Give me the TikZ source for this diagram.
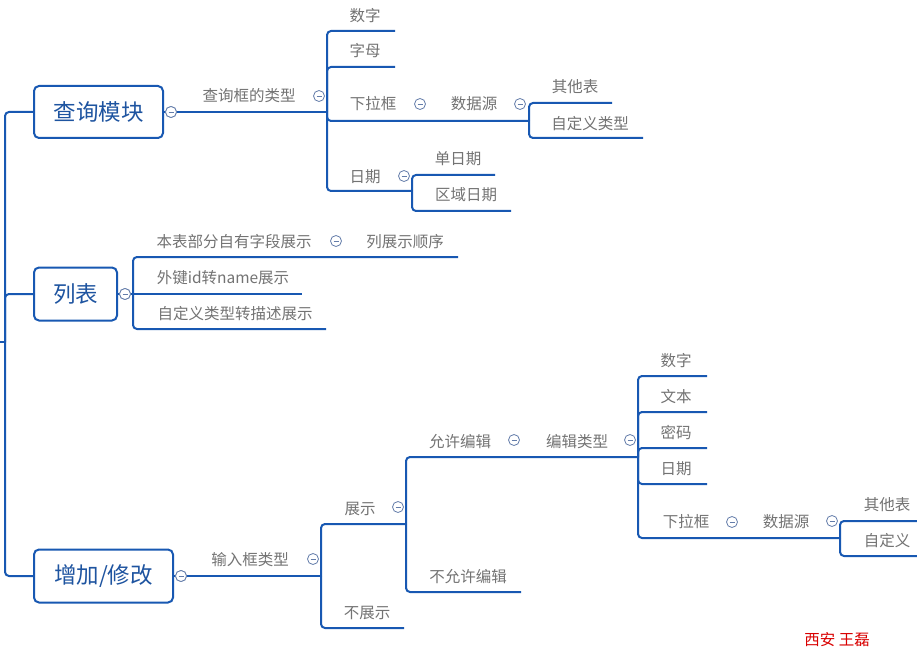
\documentclass[tikz,border=0pt]{standalone}
\usepackage{fontspec}
\setmainfont{Noto Sans CJK SC}
\definecolor{lineblue}{RGB}{24,88,178}
\definecolor{rootblue}{RGB}{30,84,160}
\definecolor{txtgrey}{RGB}{115,115,115}
\definecolor{toggrey}{RGB}{100,125,170}
\tikzset{
 link/.style={draw=lineblue, line width=2pt, rounded corners=4pt},
 lbl/.style={text=txtgrey, font=\fontsize{15.5}{15.5}\selectfont, inner sep=0pt},
 rootbox/.style={draw=lineblue, line width=2pt, rounded corners=5pt, text=rootblue, font=\fontsize{22.5}{22.5}\selectfont, inner sep=0pt, fill=white},
 tog/.style={circle, draw=toggrey, line width=0.8pt, fill=white, minimum size=11pt, inner sep=0pt,
   path picture={\draw[toggrey, line width=0.8pt] ([xshift=-2.5pt]path picture bounding box.center) -- ([xshift=2.5pt]path picture bounding box.center);}},
}
\begin{document}
\begin{tikzpicture}[x=1pt,y=-1pt]
\useasboundingbox[fill=white] (0,0) rectangle (917,652);
% trunk
\coordinate (in) at (0,342);
\coordinate (trunk) at (5,342);
\node[rootbox, minimum width=129pt, minimum height=52pt] (r1) at (98.5,112) {查询模块};
\node[rootbox, minimum width=83pt, minimum height=53pt] (r2) at (75.5,294) {列表};
\node[rootbox, minimum width=139pt, minimum height=53pt] (r3) at (103.5,576) {增加/修改};
\draw[link] (in) -- (trunk);
\draw[link] (trunk) |- (r1.west);
\draw[link] (trunk) |- (r2.west);
\draw[link] (trunk) |- (r3.west);

% ---------- branch 1
\coordinate (j1) at (327,112);
\draw[link] (r1.east) -- (j1);
\node[tog] (t1) at (171,112) {};
\node[lbl] (q1) at (249,96) {查询框的类型};
\node[tog] (t1b) at (319,96) {};

\node[lbl] (a1) at (365,16) {数字};
\coordinate (a1e) at (395,31);
\draw[link] (j1) |- (a1e);
\node[lbl] (a2) at (365,51) {字母};
\coordinate (a2e) at (395,67);
\draw[link] (j1) |- (a2e);

\node[lbl] (a3) at (373,104) {下拉框};
\node[tog] (t3) at (420,104) {};
\node[lbl] (a3b) at (474,104) {数据源};
\node[tog] (t3b) at (520,104) {};
\coordinate (j3) at (529,121);
\draw[link] (j1) |- (j3);
\node[lbl] (a31) at (575,87) {其他表};
\coordinate (a31e) at (612,103);
\draw[link] (j3) |- (a31e);
\node[lbl] (a32) at (590,124) {自定义类型};
\coordinate (a32e) at (643,138);
\draw[link] (j3) |- (a32e);

\node[lbl] (a4) at (365,177) {日期};
\node[tog] (t4) at (404,176) {};
\coordinate (j4) at (412,191);
\draw[link] (j1) |- (j4);
\node[lbl] (a41) at (458,159) {单日期};
\coordinate (a41e) at (495,175);
\draw[link] (j4) |- (a41e);
\node[lbl] (a42) at (466,195) {区域日期};
\coordinate (a42e) at (511,211);
\draw[link] (j4) |- (a42e);

% ---------- branch 2
\coordinate (j2) at (133,294);
\draw[link] (r2.east) -- (j2);
\node[tog] (t2) at (125,294) {};
\node[lbl] (b1) at (234,242) {本表部分自有字段展示};
\node[tog] (tb1) at (336,241) {};
\node[lbl] (b1b) at (405,242) {列展示顺序};
\coordinate (b1e) at (458,257);
\draw[link] (j2) |- (b1e);
\node[lbl] (b2) at (223,278) {外键id转name展示};
\coordinate (b2e) at (302,294);
\draw[link] (j2) -- (b2e);
\node[lbl] (b3) at (235,314) {自定义类型转描述展示};
\coordinate (b3e) at (326,329);
\draw[link] (j2) |- (b3e);

% ---------- branch 3
\coordinate (j5) at (321,576);
\draw[link] (r3.east) -- (j5);
\node[tog] (t5) at (181,576) {};
\node[lbl] (c0) at (250,560) {输入框类型};
\node[tog] (t5b) at (313,559) {};

\node[lbl] (c1) at (360,509) {展示};
\node[tog] (tc1) at (398,507) {};
\coordinate (j6) at (406,524);
\draw[link] (j5) |- (j6);

\node[lbl] (c11) at (460,442) {允许编辑};
\node[tog] (tc11) at (514,440) {};
\node[lbl] (c11b) at (577,442) {编辑类型};
\node[tog] (tc11b) at (630,440) {};
\coordinate (j7) at (638,457);
\draw[link] (j6) |- (j7);

\node[lbl] (d1) at (676,361) {数字};
\coordinate (d1e) at (707,376);
\draw[link] (j7) |- (d1e);
\node[lbl] (d2) at (676,397) {文本};
\coordinate (d2e) at (707,412);
\draw[link] (j7) |- (d2e);
\node[lbl] (d3) at (676,433) {密码};
\coordinate (d3e) at (707,448);
\draw[link] (j7) |- (d3e);
\node[lbl] (d4) at (676,469) {日期};
\coordinate (d4e) at (707,484);
\draw[link] (j7) |- (d4e);
\node[lbl] (d5) at (686,522) {下拉框};
\node[tog] (td5) at (732,522) {};
\node[lbl] (d5b) at (786,522) {数据源};
\node[tog] (td5b) at (832,521) {};
\coordinate (j8) at (840,538);
\draw[link] (j7) |- (j8);
\node[lbl] (e1) at (887,505) {其他表};
\coordinate (e1e) at (917,521);
\draw[link] (j8) |- (e1e);
\node[lbl] (e2) at (887,541) {自定义};
\coordinate (e2e) at (917,556);
\draw[link] (j8) |- (e2e);

\node[lbl] (c12) at (468,577) {不允许编辑};
\coordinate (c12e) at (521,592);
\draw[link] (j6) |- (c12e);

\node[lbl] (c2) at (367,613) {不展示};
\coordinate (c2e) at (404,628);
\draw[link] (j5) |- (c2e);

% redraw toggles on top of lines
\node[tog] at (t1) {};
\node[tog] at (t2) {};
\node[tog] at (t5) {};

\node[text=red!85!black, font=\fontsize{15.5}{15.5}\selectfont, inner sep=0pt] (wm) at (837,640) {西安 王磊};
\end{tikzpicture}
\end{document}
